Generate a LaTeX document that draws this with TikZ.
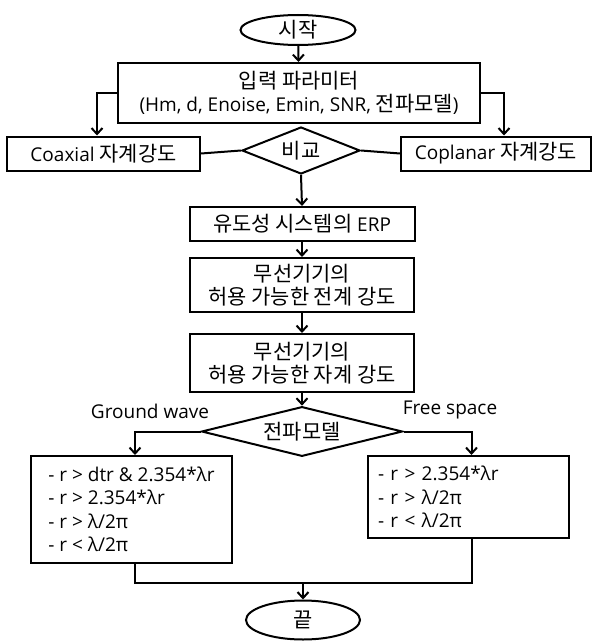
\documentclass[tikz,border=0pt]{standalone}
\usepackage{fontspec}
\setmainfont{Open Sans}
\newfontfamily\kr[Scale=1.1]{Noto Sans CJK KR}
\usetikzlibrary{shapes.geometric,arrows.meta}
\begin{document}
\begin{tikzpicture}[x=1pt,y=-1pt,
  every node/.style={font=\fontsize{19}{23.5}\selectfont, inner sep=0pt},
  box/.style={draw, line width=2pt, rectangle, align=center},
  term/.style={draw, line width=2pt, ellipse},
  dec/.style={draw, line width=2pt, diamond, aspect=2.5},
  ln/.style={line width=2pt},
  arr/.style={line width=2pt, -{Straight Barb[length=6pt,width=11pt,line width=2pt]}}]
\useasboundingbox (0,0) rectangle (592,642);
\node[term, minimum width=115pt, minimum height=30pt] (start) at (298,30) {\kr 시작};
\node[box, minimum width=362pt, minimum height=60pt] (input) at (299,93)
  {\kr 입력 파라미터\\(Hm, d, Enoise, Emin, SNR, {\kr 전파모델})};
\node[box, minimum width=193pt, minimum height=34pt] (coax) at (103.5,153.5) {Coaxial {\kr 자계강도}};
\node[dec, minimum width=118pt, minimum height=47pt] (comp) at (301,150.5) {\kr 비교};
\node[box, minimum width=190pt, minimum height=34pt] (copl) at (496,153.5) {Coplanar {\kr 자계강도}};
\node[box, minimum width=225pt, minimum height=34pt] (erp) at (302,224) {{\kr 유도성 시스템의} ERP};
\node[box, minimum width=224pt, minimum height=54pt] (w1) at (302,285) {\kr 무선기기의\\\kr 허용 가능한 전계 강도};
\node[box, minimum width=224pt, minimum height=58pt] (w2) at (302,363) {\kr 무선기기의\\\kr 허용 가능한 자계 강도};
\node[dec, minimum width=201pt, minimum height=49pt] (model) at (302,431.5) {\kr 전파모델};
\node (gw) at (150,411) {Ground wave};
\node (fs) at (450,410) {Free space};
\node[box, align=left, minimum width=201pt, minimum height=107pt] (lbox) at (131.5,509.5)
  {- r {>} dtr \& 2.354*λr\\- r {>} 2.354*λr\\- r {>} λ/2π\\- r {<} λ/2π};
\node[box, align=left, text width=181pt, inner xsep=10pt, minimum height=82pt] (rbox) at (468.5,497)
  {- r {>} 2.354*λr\\- r {>} λ/2π\\- r {<} λ/2π};
\node[term, minimum width=114pt, minimum height=39pt] (end) at (303,620) {\kr 끝};
\coordinate (m) at (303,583);
\draw[arr] (start) -- (input);
\draw[arr] (input.west) -| ([xshift=-6.5pt]coax.north);
\draw[arr] (input.east) -| ([xshift=8pt]copl.north);
\draw[ln] (coax.east) -- (comp.west);
\draw[ln] (comp.east) -- (copl.west);
\draw[arr] (comp.south) -- (erp.north);
\draw[arr] (erp) -- (w1);
\draw[arr] (w1) -- (w2);
\draw[arr] (w2) -- (model);
\draw[arr] (model.west) -| ([xshift=3.5pt]lbox.north);
\draw[arr] (model.east) -| ([xshift=3pt]rbox.north);
\draw[ln] ([xshift=3.5pt]lbox.south) |- (m) -| ([xshift=3pt]rbox.south);
\draw[arr] (m) -- (end);
\end{tikzpicture}
\end{document}
